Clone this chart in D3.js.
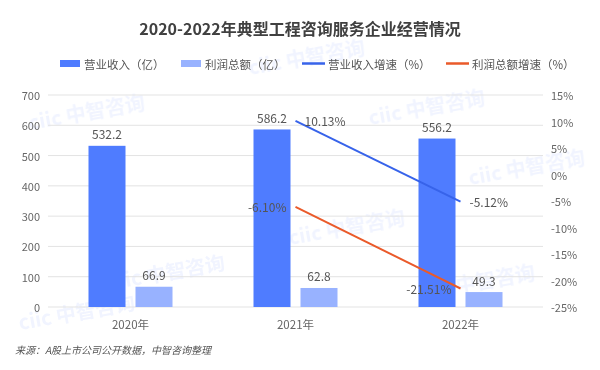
<!DOCTYPE html>
<html>
<head>
<meta charset="utf-8">
<script src="https://cdn.jsdelivr.net/npm/d3@7"></script>
<style>
  body { margin: 0; background: #fff; }
  text { font-family: "Noto Sans CJK SC", "Noto Sans", sans-serif; }
</style>
</head>
<body>
<div id="chart"></div>
<script>
const years = ["2020年", "2021年", "2022年"];
const revenue = [532.2, 586.2, 556.2];
const profit = [66.9, 62.8, 49.3];
const revenueGrowth = [null, 10.13, -5.12];
const profitGrowth = [null, -6.10, -21.51];
const leftTicks = [0, 100, 200, 300, 400, 500, 600, 700];
const rightTicks = [-25, -20, -15, -10, -5, 0, 5, 10, 15];

const width = 600, height = 370;
const c1 = "#4f7cff", c2 = "#98b2ff", cLine1 = "#3763ea", cLine2 = "#ea5a2a";

const svg = d3.select("#chart").append("svg")
    .attr("width", width)
    .attr("height", height);

// faint watermark, kept inside the frame
const wm = svg.append("g").attr("fill", "#7f9cff").attr("opacity", 0.11)
    .attr("font-weight", "bold");
[[250, 75], [30, 130], [290, 245], [370, 125], [420, 300], [20, 330], [470, 185], [110, 290]]
    .forEach(p => {
        wm.append("text")
            .attr("transform", `translate(${p[0]},${p[1]}) rotate(-10)`)
            .attr("font-size", 20)
            .text("ciic 中智咨询");
    });

const x = d3.scaleBand().domain(years).range([48, 543]);
const yL = d3.scaleLinear().domain([0, 700]).range([307, 95]);
const yR = d3.scaleLinear().domain([-25, 15]).range([307, 95]);

// gridlines
svg.append("g").selectAll("line").data(leftTicks).join("line")
    .attr("x1", 48).attr("x2", 543)
    .attr("y1", d => yL(d)).attr("y2", d => yL(d))
    .attr("stroke", "#e3e3e3").attr("stroke-width", 1);

// left axis labels
svg.append("g").selectAll("text").data(leftTicks).join("text")
    .attr("x", 40).attr("y", d => yL(d))
    .attr("text-anchor", "end").attr("dominant-baseline", "central")
    .attr("font-size", 11).attr("fill", "#666")
    .text(d => d);

// right axis labels
svg.append("g").selectAll("text").data(rightTicks).join("text")
    .attr("x", 551).attr("y", d => yR(d))
    .attr("text-anchor", "start").attr("dominant-baseline", "central")
    .attr("font-size", 11).attr("fill", "#666")
    .text(d => d + "%");

// x labels
svg.append("g").selectAll("text").data(years).join("text")
    .attr("x", d => x(d) + x.bandwidth() / 2).attr("y", 324)
    .attr("text-anchor", "middle").attr("dominant-baseline", "central")
    .attr("font-size", 11.5).attr("fill", "#666")
    .text(d => d);

const barW = 37, gap = 10;
const bars = svg.append("g");
years.forEach((yr, i) => {
    const cx = x(yr) + x.bandwidth() / 2;
    const x1 = cx - gap / 2 - barW, x2 = cx + gap / 2;
    bars.append("rect").attr("x", x1).attr("y", yL(revenue[i]))
        .attr("width", barW).attr("height", yL(0) - yL(revenue[i])).attr("fill", c1);
    bars.append("rect").attr("x", x2).attr("y", yL(profit[i]))
        .attr("width", barW).attr("height", yL(0) - yL(profit[i])).attr("fill", c2);
    bars.append("text").attr("x", x1 + barW / 2).attr("y", yL(revenue[i]) - 12)
        .attr("text-anchor", "middle").attr("dominant-baseline", "central")
        .attr("font-size", 12).attr("fill", "#555").text(revenue[i].toFixed(1));
    bars.append("text").attr("x", x2 + barW / 2).attr("y", yL(profit[i]) - 12)
        .attr("text-anchor", "middle").attr("dominant-baseline", "central")
        .attr("font-size", 12).attr("fill", "#555").text(profit[i].toFixed(1));
});

// growth lines
const line = d3.line()
    .defined(d => d.v !== null)
    .x(d => x(d.k) + x.bandwidth() / 2)
    .y(d => yR(d.v));

function drawLine(vals, color, labelSide) {
    const pts = years.map((k, i) => ({ k, v: vals[i] }));
    svg.append("path").datum(pts)
        .attr("d", line).attr("fill", "none")
        .attr("stroke", color).attr("stroke-width", 2);
    svg.append("g").selectAll("text").data(pts.filter(d => d.v !== null)).join("text")
        .attr("x", d => x(d.k) + x.bandwidth() / 2 + (labelSide === "right" ? 9 : -9))
        .attr("y", d => yR(d.v))
        .attr("text-anchor", labelSide === "right" ? "start" : "end")
        .attr("dominant-baseline", "central")
        .attr("font-size", 12).attr("fill", "#555")
        .text(d => d.v.toFixed(2) + "%");
}
drawLine(revenueGrowth, cLine1, "right");
drawLine(profitGrowth, cLine2, "left");

// title
svg.append("text").attr("x", 300).attr("y", 28)
    .attr("text-anchor", "middle").attr("dominant-baseline", "central")
    .attr("font-size", 16).attr("font-weight", "bold").attr("fill", "#404040")
    .text("2020-2022年典型工程咨询服务企业经营情况");

// legend
const legend = [
    { name: "营业收入（亿）", color: c1, type: "rect", x: 60 },
    { name: "利润总额（亿）", color: c2, type: "rect", x: 181 },
    { name: "营业收入增速（%）", color: cLine1, type: "line", x: 302 },
    { name: "利润总额增速（%）", color: cLine2, type: "line", x: 446 }
];
const lg = svg.append("g");
legend.forEach(d => {
    if (d.type === "rect") {
        lg.append("rect").attr("x", d.x).attr("y", 60).attr("width", 20).attr("height", 7).attr("fill", d.color);
    } else {
        lg.append("line").attr("x1", d.x).attr("x2", d.x + 23).attr("y1", 63.5).attr("y2", 63.5)
            .attr("stroke", d.color).attr("stroke-width", 2.5);
    }
    lg.append("text").attr("x", d.x + (d.type === "rect" ? 24 : 26)).attr("y", 64)
        .attr("dominant-baseline", "central").attr("font-size", 11.5).attr("fill", "#555")
        .text(d.name);
});

// source
svg.append("text").attr("x", 15).attr("y", 349)
    .attr("dominant-baseline", "central").attr("font-size", 10)
    .attr("font-style", "italic").attr("fill", "#555")
    .text("来源：A股上市公司公开数据，中智咨询整理");
</script>
</body>
</html>
